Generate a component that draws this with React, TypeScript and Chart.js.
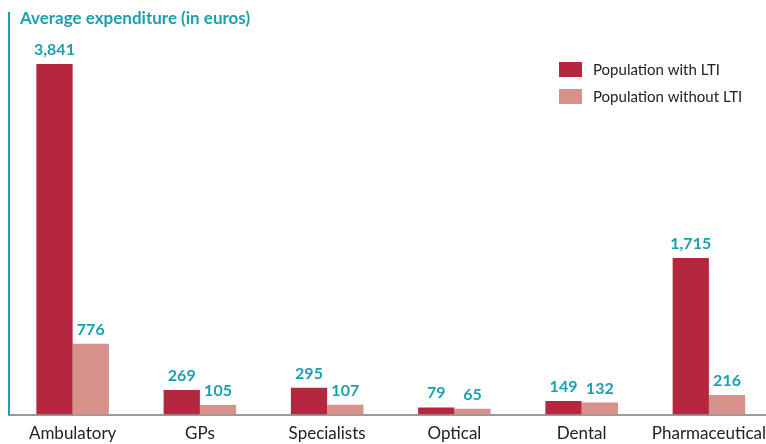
import React, { useEffect, useRef } from "react";
import { Chart, registerables } from "chart.js";

Chart.register(...registerables);

const categories = ["Ambulatory", "GPs", "Specialists", "Optical", "Dental", "Pharmaceutical"];
const withLTI = [3841, 269, 295, 79, 149, 1715];
const withoutLTI = [776, 105, 107, 65, 132, 216];
const seriesNames = ["Population with LTI", "Population without LTI"];
const titleText = "Average expenditure (in euros)";

const RED = "#B5273F";
const PINK = "#D8918A";
const TEAL = "#1AA0AE";
const FONT = "Lato, 'Open Sans', sans-serif";

const fmt = (v: number) => v.toLocaleString("en-US");

const overlay = {
  id: "overlay",
  afterDatasetsDraw(chart: any) {
    const ctx = chart.ctx;
    ctx.save();
    ctx.fillStyle = TEAL;
    ctx.font = `bold 16px ${FONT}`;
    ctx.textAlign = "center";
    ctx.textBaseline = "alphabetic";
    chart.data.datasets.forEach((ds: any, i: number) => {
      const meta = chart.getDatasetMeta(i);
      meta.data.forEach((bar: any, j: number) => {
        ctx.fillText(fmt(ds.data[j]), bar.x, bar.y - 9);
      });
    });
    ctx.textAlign = "left";
    ctx.font = `bold 17px ${FONT}`;
    ctx.fillText(titleText, 20, 24);
    const colors = [RED, PINK];
    ctx.font = `15px ${FONT}`;
    ctx.textBaseline = "middle";
    seriesNames.forEach((n, i) => {
      const y = 62 + i * 27;
      ctx.fillStyle = colors[i];
      ctx.fillRect(559, y, 23, 15);
      ctx.fillStyle = "#222";
      ctx.fillText(n, 593, y + 8);
    });
    ctx.restore();
  },
};

export default function App() {
  const ref = useRef<HTMLCanvasElement>(null);
  useEffect(() => {
    document.body.style.margin = "0";
    document.body.style.overflow = "hidden";
    const chart = new Chart(ref.current!, {
      type: "bar",
      data: {
        labels: categories,
        datasets: [
          { label: seriesNames[0], data: withLTI, backgroundColor: RED },
          { label: seriesNames[1], data: withoutLTI, backgroundColor: PINK },
        ],
      },
      options: {
        responsive: false,
        animation: false,
        categoryPercentage: 0.57,
        barPercentage: 1,
        layout: { padding: { top: 13, left: 9, right: 0, bottom: 0 } },
        plugins: { legend: { display: false }, tooltip: { enabled: false } },
        scales: {
          x: {
            grid: { display: false, drawTicks: false, tickLength: 0 },
            border: { color: "#9A9A9A", width: 2 },
            ticks: { color: "#222", font: { family: FONT, size: 17 }, padding: 9, maxRotation: 0, autoSkip: false },
          },
          y: {
            min: 0,
            max: 4400,
            grid: { display: false, drawTicks: false, tickLength: 0 },
            border: { color: TEAL, width: 2 },
            ticks: { display: false },
          },
        },
      },
      plugins: [overlay],
    });
    return () => chart.destroy();
  }, []);
  return <canvas ref={ref} width={775} height={453} style={{ display: "block" }} />;
}
